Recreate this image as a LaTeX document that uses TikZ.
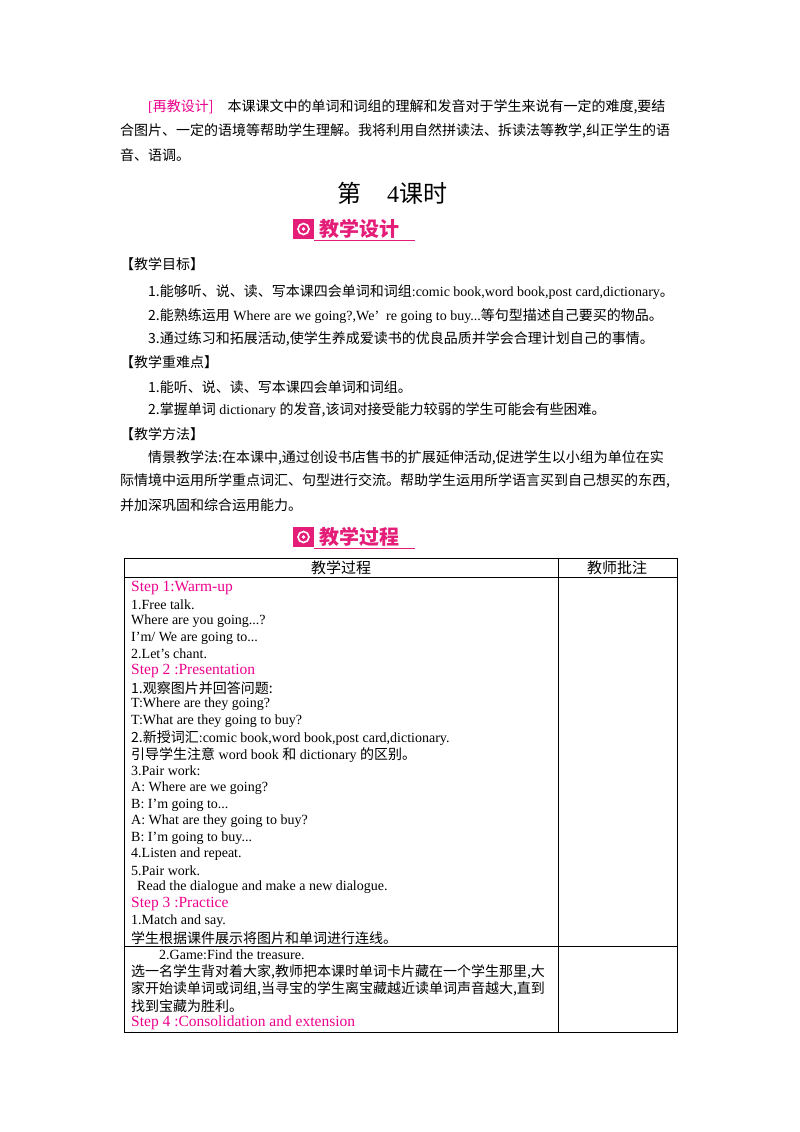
\documentclass[tikz,border=0pt]{standalone}
\usepackage{fontspec}
\setmainfont{Liberation Serif}
\newfontfamily\cjk{Noto Sans CJK SC}
\begin{document}
\begin{tikzpicture}[x=1pt,y=-1pt,
  t/.style={anchor=west,inner sep=0pt,font=\fontsize{14}{15}\selectfont},
  tl/.style={anchor=west,inner sep=0pt,font=\fontsize{14}{16}\selectfont},
  st/.style={t,text=magenta,font=\fontsize{15.5}{16}\selectfont},
  grid/.style={draw=black,line width=0.7pt}]
\definecolor{bpink}{RGB}{228,30,120}
\useasboundingbox (0,0) rectangle (800,1132);
\node[tl] (p1) at (148,107) {\textcolor{magenta}{[\cjk 再教设计]}\quad{\cjk 本课课文中的单词和词组的理解和发音对于学生来说有一定的难度,要结}};
\node[tl] (p2) at (120,131) {\cjk 合图片、一定的语境等帮助学生理解。我将利用自然拼读法、拆读法等教学,纠正学生的语};
\node[tl] (p3) at (120,155) {\cjk 音、语调。};
\node[anchor=center,font=\fontsize{24}{26}\selectfont] (title) at (392,193) {{\cjk 第}\hspace{26pt}4{\cjk 课时}};
\foreach \n/\y/\txt in {b1/229/教学设计, b2/537/教学过程}{
  \fill[bpink] (293,\y-10) rectangle (314,\y+10);
  \draw[white,line width=1.6pt] (303.5,\y) circle (5.5);
  \fill[white] (303.5,\y) circle (1.8);
  \node[anchor=west,text=bpink,inner sep=0pt,font=\cjk\bfseries\fontsize{20}{22}\selectfont] (\n) at (319,\y) {\txt};
  \draw[bpink,line width=0.8pt] (314,\y+11) -- (415,\y+11);
}
\node[tl] (h1) at (120,264) {\cjk 【教学目标】};
\node[tl] (a1) at (148,292) {{\cjk 1.能够听、说、读、写本课四会单词和词组}:comic book,word book,post card,dictionary{\cjk 。}};
\node[tl] (a2) at (148,316) {{\cjk 2.能熟练运用} Where are we going?,We'\ \ re going to buy...{\cjk 等句型描述自己要买的物品。}};
\node[tl] (a3) at (148,339) {\cjk 3.通过练习和拓展活动,使学生养成爱读书的优良品质并学会合理计划自己的事情。};
\node[tl] (h2) at (120,362) {\cjk 【教学重难点】};
\node[tl] (c1) at (148,387) {\cjk 1.能听、说、读、写本课四会单词和词组。};
\node[tl] (c2) at (148,410) {{\cjk 2.掌握单词} dictionary {\cjk 的发音,该词对接受能力较弱的学生可能会有些困难。}};
\node[tl] (h3) at (120,434) {\cjk 【教学方法】};
\node[tl] (m1) at (148,458) {\cjk 情景教学法:在本课中,通过创设书店售书的扩展延伸活动,促进学生以小组为单位在实};
\node[tl] (m2) at (120,481) {\cjk 际情境中运用所学重点词汇、句型进行交流。帮助学生运用所学语言买到自己想买的东西,};
\node[tl] (m3) at (120,505) {\cjk 并加深巩固和综合运用能力。};
% table
\draw[grid] (124,558) rectangle (677,1032);
\draw[grid] (558,558) -- (558,1032);
\draw[grid] (124,577) -- (677,577);
\draw[grid] (124,946) -- (677,946);
\node[font=\cjk\fontsize{15}{16}\selectfont,inner sep=0pt] (th1) at (341,568) {教学过程};
\node[font=\cjk\fontsize{15}{16}\selectfont,inner sep=0pt] (th2) at (617,568) {教师批注};
\node[st] (s1) at (131,588) {Step 1:Warm-up};
\node[t] at (131,605) {1.Free talk.};
\node[t] at (131,621) {Where are you going...?};
\node[t] at (131,638) {I'm/ We are going to...};
\node[t] at (131,654) {2.Let's chant.};
\node[st] (s2) at (131,671) {Step 2 :Presentation};
\node[t] at (131,688) {\cjk 1.观察图片并回答问题:};
\node[t] at (131,704) {T:Where are they going?};
\node[t] at (131,721) {T:What are they going to buy?};
\node[t] at (131,738) {{\cjk 2.新授词汇}:comic book,word book,post card,dictionary.};
\node[t] at (131,755) {{\cjk 引导学生注意} word book {\cjk 和} dictionary {\cjk 的区别。}};
\node[t] at (131,771) {3.Pair work:};
\node[t] at (131,788) {A: Where are we going?};
\node[t] at (131,805) {B: I'm going to...};
\node[t] at (131,821) {A: What are they going to buy?};
\node[t] at (131,838) {B: I'm going to buy...};
\node[t] at (131,854) {4.Listen and repeat.};
\node[t] at (131,871) {5.Pair work.};
\node[t] at (137,887) {Read the dialogue and make a new dialogue.};
\node[st] (s3) at (131,904) {Step 3 :Practice};
\node[t] at (131,921) {1.Match and say.};
\node[t] at (131,938) {\cjk 学生根据课件展示将图片和单词进行连线。};
\node[t] at (159,955) {2.Game:Find the treasure.};
\node[t] at (131,972) {\cjk 选一名学生背对着大家,教师把本课时单词卡片藏在一个学生那里,大};
\node[t] at (131,989) {\cjk 家开始读单词或词组,当寻宝的学生离宝藏越近读单词声音越大,直到};
\node[t] at (131,1006) {\cjk 找到宝藏为胜利。};
\node[st] (s4) at (131,1023) {Step 4 :Consolidation and extension};
\end{tikzpicture}
\end{document}
